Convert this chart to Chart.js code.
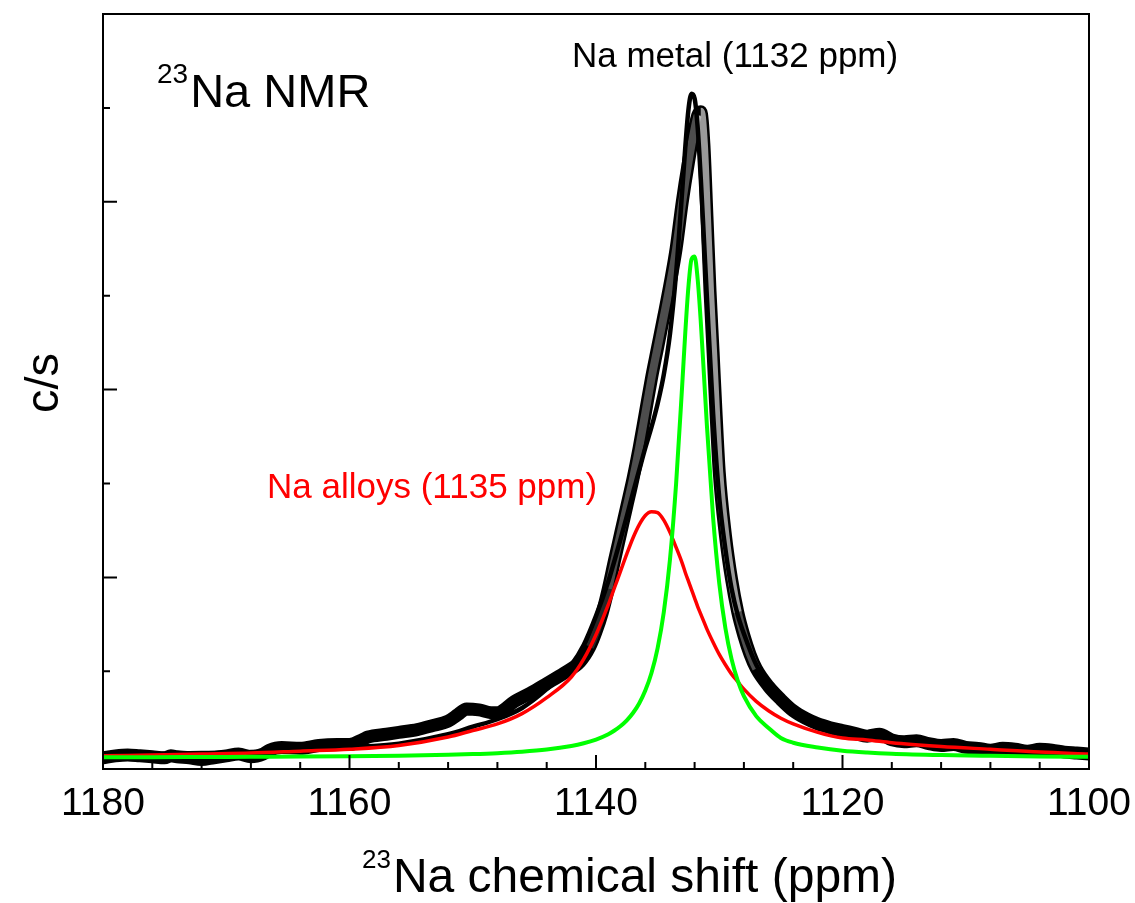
<!DOCTYPE html>
<html lang="en">
<head>
<meta charset="UTF-8">
<title>23Na NMR</title>
<script src="https://cdn.jsdelivr.net/npm/chart.js@4.4.1/dist/chart.umd.min.js"></script>
<style>
  html, body { margin: 0; padding: 0; background: #fff; }
  #wrap { width: 1135px; height: 903px; }
</style>
</head>
<body>
<div id="wrap"><canvas id="nmrChart"></canvas></div>
<script>
// fitted components (ppm -> c/s, arbitrary units)
var fitPpm = [1180, 1176, 1172, 1168, 1164, 1160, 1156, 1152, 1150, 1148, 1146, 1144, 1142, 1141, 1140,
    1139, 1138.5, 1138, 1137.5, 1137, 1136.5, 1136, 1135.5, 1135, 1134.5, 1134, 1133.5, 1133,
    1132.75, 1132.5, 1132.25, 1132, 1131.75, 1131.5, 1131.25, 1131,
    1130.5, 1130, 1129.5, 1129, 1128.5, 1128, 1127, 1126, 1125, 1124, 1122, 1120, 1118, 1116,
    1112, 1108, 1104, 1100];

// Na metal (green)
var metalFit = [0.086, 0.086, 0.088, 0.090, 0.092, 0.096, 0.102, 0.112, 0.119, 0.129, 0.144, 0.167, 0.205, 0.234, 0.274,
    0.331, 0.370, 0.418, 0.478, 0.556, 0.658, 0.795, 0.982, 1.248, 1.629, 2.188, 2.998, 4.062,
    4.620, 5.097, 5.389, 5.417, 5.174, 4.725, 4.176, 3.613,
    2.640, 1.938, 1.459, 1.130, 0.900, 0.735, 0.523, 0.397, 0.290, 0.240, 0.190, 0.155, 0.135, 0.122,
    0.108, 0.100, 0.094, 0.090];

// Na alloys (red)
var alloyFit = [0.10, 0.11, 0.12, 0.13, 0.15, 0.17, 0.21, 0.30, 0.37, 0.44, 0.55, 0.72, 0.94, 1.13, 1.39,
    1.71, 1.89, 2.07, 2.25, 2.42, 2.56, 2.66, 2.70, 2.69, 2.61, 2.48, 2.32, 2.15,
    2.05, 1.96, 1.87, 1.78, 1.69, 1.61, 1.53, 1.45,
    1.31, 1.18, 1.07, 0.97, 0.89, 0.81, 0.68, 0.58, 0.50, 0.44, 0.35, 0.29, 0.27, 0.24,
    0.20, 0.17, 0.14, 0.12];

// cumulative fit (black line)
var sumFit = [0.11, 0.12, 0.13, 0.14, 0.16, 0.19, 0.23, 0.33, 0.41, 0.49, 0.61, 0.81, 1.07, 1.28, 1.59,
    1.96, 2.18, 2.41, 2.65, 2.90, 3.14, 3.38, 3.60, 3.85, 4.16, 4.59, 5.24, 6.13,
    6.59, 6.98, 7.15, 7.10, 6.79, 6.25, 5.62, 4.98,
    3.75, 2.85, 2.30, 1.88, 1.60, 1.40, 1.07, 0.87, 0.71, 0.60, 0.46, 0.37, 0.33, 0.29,
    0.23, 0.19, 0.155, 0.13];

// measured spectrum (open circles)
var dataPpm = [1180, 1179, 1178, 1177, 1176, 1175, 1174.5, 1174, 1173, 1172, 1171, 1170, 1169, 1168, 1167,
    1166.5, 1165.5, 1164, 1162.5, 1161, 1160, 1159, 1158.5, 1157, 1156, 1154.5, 1153.3, 1152, 1151.2,
    1150.5, 1149.5, 1148.5, 1148, 1146.6, 1145.3, 1144, 1142.6, 1141.3, 1140.5, 1140, 1139.5, 1139,
    1138.5, 1138, 1137.5, 1137, 1136.5, 1136, 1135.5, 1135, 1134.5, 1134, 1133.5, 1133, 1132.5, 1132,
    1131.75, 1131.5, 1131.25, 1131, 1130.75, 1130.5, 1130.25, 1130, 1129.5, 1129, 1128.5, 1128, 1127.5,
    1127, 1126, 1125, 1124, 1123, 1122, 1121, 1120, 1119, 1118, 1117, 1116, 1115, 1114, 1113, 1112,
    1111, 1110, 1109, 1108, 1107, 1106, 1105, 1104, 1103, 1102, 1101, 1100];
var dataCps = [0.08, 0.10, 0.11, 0.10, 0.09, 0.08, 0.10, 0.09, 0.08, 0.06, 0.08, 0.10, 0.12, 0.09, 0.12,
    0.16, 0.19, 0.18, 0.21, 0.22, 0.22, 0.27, 0.30, 0.33, 0.35, 0.38, 0.42, 0.47, 0.54,
    0.60, 0.59, 0.56, 0.56, 0.68, 0.77, 0.87, 0.98, 1.10, 1.26, 1.42, 1.62, 1.88,
    2.18, 2.47, 2.76, 3.05, 3.38, 3.75, 4.12, 4.45, 4.78, 5.12, 5.50, 6.00, 6.42, 6.78,
    6.92, 6.96, 6.62, 5.85, 5.05, 4.40, 3.72, 3.12, 2.45, 1.98, 1.63, 1.38, 1.18,
    1.03, 0.84, 0.70, 0.58, 0.50, 0.44, 0.40, 0.37, 0.34, 0.31, 0.33, 0.27, 0.25, 0.26, 0.23, 0.21,
    0.22, 0.19, 0.18, 0.16, 0.18, 0.17, 0.15, 0.17, 0.16, 0.14, 0.13, 0.12];

var xTickLabels = [1180, 1160, 1140, 1120, 1100];

var FONT = "'Liberation Sans', Arial, sans-serif";

function pairs(xs, ys) {
    var out = [];
    for (var i = 0; i < xs.length; i++) out.push({x: xs[i], y: ys[i]});
    return out;
}

// the stacked circles on the steep flanks leave a lighter core
function innerShade(ctx) {
    var dx = Math.abs(ctx.p1.x - ctx.p0.x) || 0.01;
    var dy = ctx.p1.y - ctx.p0.y;
    var k = Math.abs(dy) / dx;
    if (k < 2) return 'rgba(0,0,0,0)';
    if (dy < 0) return k > 4 ? 'rgba(255,255,255,0.3)' : 'rgba(255,255,255,0.15)';
    return k > 4 ? 'rgba(255,255,255,0.6)' : 'rgba(255,255,255,0.3)';
}

function supText(ctx, sup, main, x, base, supSize, mainSize, rise) {
    ctx.font = supSize + 'px ' + FONT;
    ctx.fillText(sup, x, base - rise);
    var w = ctx.measureText(sup).width;
    ctx.font = mainSize + 'px ' + FONT;
    ctx.fillText(main, x + w + 2, base);
}

var frameAndTicks = {
    id: 'frameAndTicks',
    afterDatasetsDraw: function (chart) {
        var ctx = chart.ctx, a = chart.chartArea;
        var xs = chart.scales.x, ys = chart.scales.y;
        ctx.save();
        ctx.strokeStyle = '#000';
        ctx.lineWidth = 2;
        ctx.strokeRect(a.left, a.top, a.right - a.left, a.bottom - a.top);
        ctx.beginPath();
        xs.ticks.forEach(function (t) {
            var len = (t.value % 20 === 0) ? 14 : 7;
            var px = xs.getPixelForValue(t.value);
            ctx.moveTo(px, a.bottom);
            ctx.lineTo(px, a.bottom - len);
        });
        ys.ticks.forEach(function (t) {
            if (t.value < 1 || t.value > 7 || t.value % 1 !== 0) return;
            var len = (t.value % 2 === 0) ? 14 : 7;
            var py = ys.getPixelForValue(t.value);
            ctx.moveTo(a.left, py);
            ctx.lineTo(a.left + len, py);
        });
        ctx.stroke();
        ctx.restore();
    },
    afterDraw: function (chart) {
        var ctx = chart.ctx;
        ctx.save();
        ctx.fillStyle = '#000';
        ctx.textAlign = 'left';
        ctx.textBaseline = 'alphabetic';
        supText(ctx, '23', 'Na NMR', 157, 107, 28, 47, 24);
        supText(ctx, '23', 'Na chemical shift (ppm)', 362, 892, 26, 48, 24);

        ctx.font = '35px ' + FONT;
        ctx.fillText('Na metal (1132 ppm)', 572, 67);
        ctx.fillStyle = '#ff0000';
        ctx.fillText('Na alloys (1135 ppm)', 267, 498);

        ctx.fillStyle = '#000';
        ctx.translate(58, 383);
        ctx.rotate(-Math.PI / 2);
        ctx.textAlign = 'center';
        ctx.font = '47px ' + FONT;
        ctx.fillText('c/s', 0, 0);
        ctx.restore();
    }
};

new Chart(document.getElementById('nmrChart'), {
    type: 'scatter',
    data: {
        datasets: [
            {label: 'Na metal', data: pairs(fitPpm, metalFit), showLine: true,
             borderColor: '#00ff00', borderWidth: 4, order: 1},
            {label: 'Na alloys', data: pairs(fitPpm, alloyFit), showLine: true,
             borderColor: '#ff0000', borderWidth: 3.5, order: 2},
            {label: 'fit', data: pairs(fitPpm, sumFit), showLine: true,
             borderColor: '#000', borderWidth: 4.5, order: 3},
            {label: 'spectrum core', data: pairs(dataPpm, dataCps), showLine: true,
             borderColor: 'rgba(0,0,0,0)', borderWidth: 8, borderCapStyle: 'butt',
             segment: {borderColor: innerShade}, order: 4},
            {label: 'spectrum', data: pairs(dataPpm, dataCps), showLine: true,
             borderColor: '#000', borderWidth: 13, order: 5}
        ]
    },
    options: {
        responsive: true,
        maintainAspectRatio: false,
        animation: false,
        events: [],
        layout: {padding: {top: 14, right: 46, left: 0, bottom: 0}},
        plugins: {legend: {display: false}, tooltip: {enabled: false}},
        elements: {
            point: {radius: 0, hoverRadius: 0},
            line: {cubicInterpolationMode: 'monotone', borderCapStyle: 'round', borderJoinStyle: 'round', fill: false}
        },
        datasets: {scatter: {clip: 0}},
        scales: {
            x: {
                type: 'linear', reverse: true, min: 1100, max: 1180,
                afterFit: function (s) { s.height = 134; },
                grid: {display: false}, border: {display: false},
                ticks: {
                    stepSize: 4, autoSkip: false, maxRotation: 0, padding: 4, color: '#000',
                    font: {family: FONT, size: 39},
                    callback: function (v) { return xTickLabels.indexOf(v) >= 0 ? String(v) : ''; }
                }
            },
            y: {
                type: 'linear', min: -0.04, max: 8,
                afterFit: function (s) { s.width = 103; },
                grid: {display: false}, border: {display: false},
                ticks: {display: false, stepSize: 1}
            }
        }
    },
    plugins: [frameAndTicks]
});
</script>
</body>
</html>
